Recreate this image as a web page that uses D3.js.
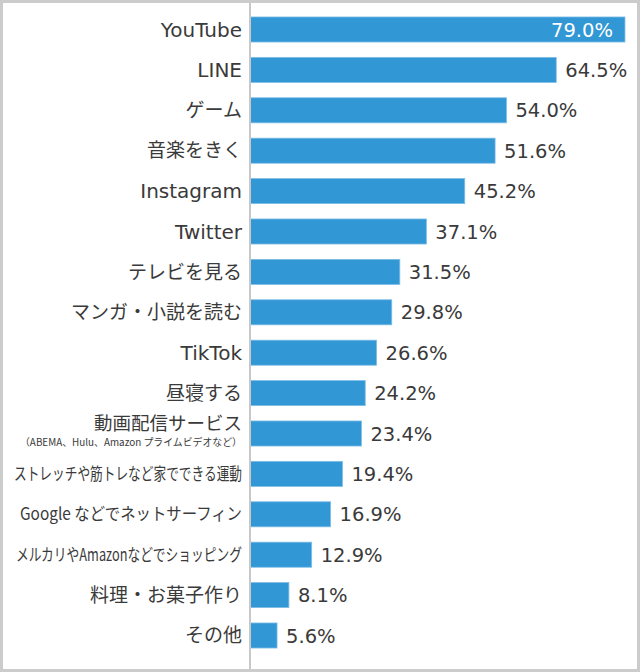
<!DOCTYPE html>
<html>
<head>
<meta charset="utf-8">
<script src="https://cdn.jsdelivr.net/npm/d3@7"></script>
<style>
  html, body { margin: 0; padding: 0; background: #fff; }
  svg { display: block; }
</style>
</head>
<body>
<div id="chart"></div>
<script>
const categories = [
  "YouTube", "LINE", "ゲーム", "音楽をきく", "Instagram", "Twitter", "テレビを見る",
  "マンガ・小説を読む", "TikTok", "昼寝する", "動画配信サービス",
  "ストレッチや筋トレなど家でできる運動", "Google などでネットサーフィン",
  "メルカリやAmazonなどでショッピング", "料理・お菓子作り", "その他"
];
const values = [79.0, 64.5, 54.0, 51.6, 45.2, 37.1, 31.5, 29.8, 26.6, 24.2, 23.4, 19.4, 16.9, 12.9, 8.1, 5.6];
const subLabels = { "動画配信サービス": "（ABEMA、Hulu、Amazon プライムビデオなど）" };
// labels that are squeezed horizontally in the original
const squeezed = {
  "ストレッチや筋トレなど家でできる運動": 228,
  "Google などでネットサーフィン": 222,
  "メルカリやAmazonなどでショッピング": 226
};

const W = 640, H = 672;
const cjkFont = "'Noto Sans CJK JP', sans-serif";
const latinFont = "'DejaVu Sans', sans-serif";
const barColor = "#3197d5";
const textColor = "#3a3a3a";
const isLatin = s => /^[\x20-\x7e]+$/.test(s);

const svg = d3.select("#chart").append("svg").attr("width", W).attr("height", H);

svg.append("rect").attr("x", 1.5).attr("y", 1.5).attr("width", W - 3).attr("height", H - 3)
  .attr("fill", "#fff").attr("stroke", "#cccccc").attr("stroke-width", 3);

const x = d3.scaleLinear().domain([0, 80]).range([250.5, 629.7]);
const y = d3.scaleBand().domain(categories).range([9.3, 655.7])
  .paddingInner(0.38).paddingOuter(0.19);

const data = categories.map((c, i) => ({ cat: c, v: values[i] }));

svg.selectAll(".bar").data(data).join("rect").attr("class", "bar")
  .attr("x", x(0))
  .attr("y", d => y(d.cat))
  .attr("width", d => x(d.v) - x(0))
  .attr("height", y.bandwidth())
  .attr("fill", barColor)
  .attr("stroke", "#7dbde6").attr("stroke-width", 0.8);

// axis line
svg.append("line").attr("x1", 250).attr("x2", 250).attr("y1", 3).attr("y2", H - 3)
  .attr("stroke", "#c8c8c8").attr("stroke-width", 2);

// category labels
const lab = svg.selectAll(".lab").data(data).join("text").attr("class", "lab")
  .attr("x", 242)
  .attr("y", d => y(d.cat) + y.bandwidth() / 2 + (subLabels[d.cat] ? -9.5 : 0))
  .attr("dy", "0.35em")
  .attr("text-anchor", "end")
  .attr("font-family", d => isLatin(d.cat) ? latinFont : cjkFont)
  .attr("font-size", d => isLatin(d.cat) ? 20 : squeezed[d.cat] ? 17 : subLabels[d.cat] ? 18.5 : 19)
  .attr("fill", textColor)
  .text(d => d.cat);
lab.filter(d => squeezed[d.cat])
  .attr("textLength", d => squeezed[d.cat])
  .attr("lengthAdjust", "spacingAndGlyphs");

svg.selectAll(".sub").data(data.filter(d => subLabels[d.cat])).join("text").attr("class", "sub")
  .attr("x", 242)
  .attr("y", d => y(d.cat) + y.bandwidth() / 2 + 8.5)
  .attr("dy", "0.35em")
  .attr("text-anchor", "end")
  .attr("font-family", cjkFont)
  .attr("font-size", 10)
  .attr("fill", textColor)
  .attr("textLength", 222)
  .attr("lengthAdjust", "spacingAndGlyphs")
  .text(d => subLabels[d.cat]);

// value labels
svg.selectAll(".val").data(data).join("text").attr("class", "val")
  .attr("x", (d, i) => i === 0 ? x(d.v) - 12 : x(d.v) + 9)
  .attr("y", d => y(d.cat) + y.bandwidth() / 2)
  .attr("dy", "0.36em")
  .attr("text-anchor", (d, i) => i === 0 ? "end" : "start")
  .attr("font-family", latinFont)
  .attr("font-size", 19.5)
  .attr("fill", (d, i) => i === 0 ? "#fff" : textColor)
  .text(d => d.v.toFixed(1) + "%");
</script>
</body>
</html>
